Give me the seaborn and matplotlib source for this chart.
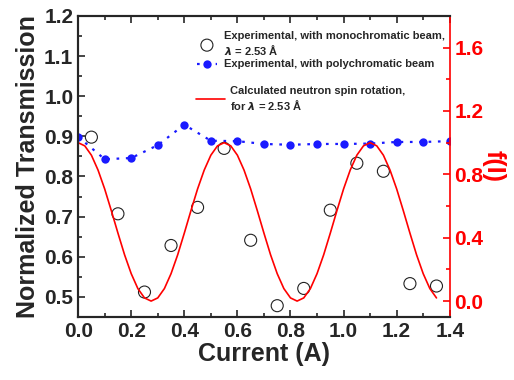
import numpy as np
import pandas as pd
import matplotlib
matplotlib.use("Agg")
import matplotlib.pyplot as plt
from matplotlib.ticker import MultipleLocator
import seaborn as sns

# monochromatic beam (open circles)
mono_current = [0.05, 0.15, 0.25, 0.35, 0.45, 0.55, 0.65, 0.75, 0.85, 0.95, 1.05, 1.15, 1.25, 1.35]
mono_trans = [0.898, 0.707, 0.512, 0.628, 0.723, 0.870, 0.641, 0.478, 0.521, 0.716, 0.833, 0.813, 0.533, 0.527]

# polychromatic beam (blue dots)
poly_current = [0.0, 0.1, 0.2, 0.3, 0.4, 0.5, 0.6, 0.7, 0.8, 0.9, 1.0, 1.1, 1.2, 1.3, 1.4]
poly_trans = [0.899, 0.843, 0.846, 0.878, 0.929, 0.889, 0.888, 0.881, 0.879, 0.881, 0.881, 0.882, 0.886, 0.886, 0.888]

# calculated spin rotation f(I), read every 0.025 A
calc_current = [round(0.025 * i, 3) for i in range(55)]
calc_f = [1.000, 0.980, 0.921, 0.827, 0.708, 0.571, 0.429, 0.292, 0.173, 0.079, 0.020,
          0.000, 0.020, 0.079, 0.173, 0.292, 0.429, 0.571, 0.708, 0.827, 0.921, 0.980,
          1.000, 0.980, 0.921, 0.827, 0.708, 0.571, 0.429, 0.292, 0.173, 0.079, 0.020,
          0.000, 0.020, 0.079, 0.173, 0.292, 0.429, 0.571, 0.708, 0.827, 0.921, 0.980,
          1.000, 0.980, 0.921, 0.827, 0.708, 0.571, 0.429, 0.292, 0.173, 0.079, 0.020]

sns.set_style("ticks")
plt.rcParams['font.family'] = ['Liberation Sans', 'DejaVu Sans']
plt.rcParams['font.weight'] = 'bold'
plt.rcParams['axes.labelweight'] = 'bold'

fig = plt.figure(figsize=(5.14, 3.8), dpi=100)
ax = fig.add_axes([0.152, 0.166, 0.723, 0.792])
ax2 = ax.twinx()

mono = pd.DataFrame({'x': mono_current, 'y': mono_trans})
poly = pd.DataFrame({'x': poly_current, 'y': poly_trans})
calc = pd.DataFrame({'x': calc_current, 'f': calc_f})

sns.scatterplot(data=mono, x='x', y='y', ax=ax, marker='o', s=75,
                facecolor='none', edgecolor='#222222', linewidth=0.8,
                label='Experimental, with monochromatic beam,\n$\\lambda$ = 2.53 Å', zorder=4)
sns.lineplot(data=poly, x='x', y='y', ax=ax, color='#1a1aff', linestyle=(0, (1.2, 3)),
             linewidth=1.6, marker='o', markersize=6, markeredgewidth=0,
             label='Experimental, with polychromatic beam', zorder=3)
sns.lineplot(data=calc, x='x', y='f', ax=ax2, color='red', linewidth=1.2,
             label='Calculated neutron spin rotation,\nfor $\\lambda$ = 2.53 Å')

ax.set_xlim(0, 1.4)
ax.set_ylim(0.45, 1.2)
ax2.set_ylim(-0.1, 1.8)

ax.set_xlabel('Current (A)', fontsize=18, fontweight='bold', labelpad=1)
ax.set_ylabel('Normalized Transmission', fontsize=18, fontweight='bold', labelpad=3)
ax2.set_ylabel('f(I)', fontsize=18, fontweight='bold', color='red', rotation=270, labelpad=16)

ax.xaxis.set_major_locator(MultipleLocator(0.2))
ax.xaxis.set_minor_locator(MultipleLocator(0.1))
ax.yaxis.set_major_locator(MultipleLocator(0.1))
ax.yaxis.set_minor_locator(MultipleLocator(0.05))
ax2.yaxis.set_major_locator(MultipleLocator(0.4))
ax2.yaxis.set_minor_locator(MultipleLocator(0.2))

ax.tick_params(which='both', direction='in', top=True, right=False, width=1.2, labelsize=15)
ax.tick_params(which='major', length=5)
ax.tick_params(which='minor', length=3)
ax2.tick_params(which='both', direction='in', colors='red', width=1.2, labelsize=15)
ax2.tick_params(which='major', length=5)
ax2.tick_params(which='minor', length=3)
for lab in ax.get_xticklabels() + ax.get_yticklabels() + ax2.get_yticklabels():
    lab.set_fontweight('bold')

for side in ['left', 'bottom', 'top']:
    ax.spines[side].set_linewidth(1.5)
    ax2.spines[side].set_linewidth(1.5)
ax2.spines['right'].set_color('red')
ax2.spines['right'].set_linewidth(1.2)
ax.spines['right'].set_visible(False)

ax.legend(loc='upper right', bbox_to_anchor=(1.01, 0.98), frameon=False,
          prop={'size': 8, 'weight': 'bold'}, handlelength=1.8, handletextpad=0.6,
          labelspacing=0.2, borderaxespad=0.4)
ax2.legend(loc='upper right', bbox_to_anchor=(0.897, 0.79), frameon=False,
           prop={'size': 8, 'weight': 'bold'}, handlelength=2.6, handletextpad=0.4,
           borderaxespad=0.2)

fig.savefig('out.png', dpi=100)
